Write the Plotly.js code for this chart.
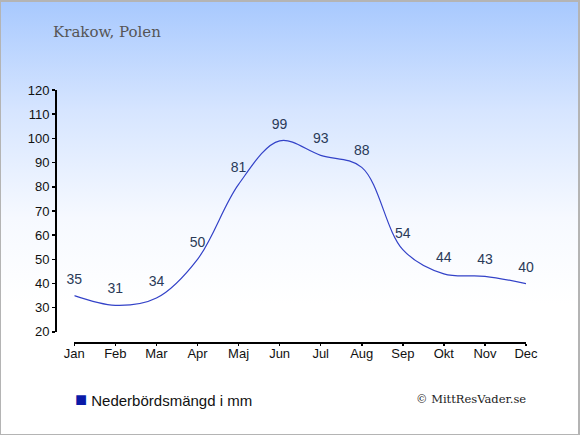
<!DOCTYPE html>
<html>
<head>
<meta charset="utf-8">
<script src="https://cdn.plot.ly/plotly-3.0.1.min.js"></script>
<style>
html,body{margin:0;padding:0;}
#wrap{width:580px;height:435px;box-sizing:border-box;border:1px solid #b4b4b4;border-top-width:2px;border-right-width:2px;
background:linear-gradient(to bottom,#a8c9fe 0%,#d6e5ff 25%,#f6f9ff 50%,#ffffff 70%,#ffffff 100%);}
#chart{width:576px;height:432px;}
</style>
</head>
<body>
<div id="wrap"><div id="chart"></div></div>
<script>
const months = ["Jan","Feb","Mar","Apr","Maj","Jun","Jul","Aug","Sep","Okt","Nov","Dec"];
const precip = [35,31,34,50,81,99,93,88,54,44,43,40];
const yTicks = [20,30,40,50,60,70,80,90,100,110,120];
const titleText = "Krakow, Polen";
const legendText = "Nederbördsmängd i mm";
const creditText = "© MittResVader.se";

const trace = {
  x: months,
  y: precip,
  type: "scatter",
  mode: "lines+markers+text",
  line: {shape: "spline", color: "#3342c8", width: 1.2, smoothing: 1},
  marker: {size: 12, color: "rgba(0,0,0,0)"},
  text: precip.map(String),
  textposition: "top center",
  textfont: {family: "Liberation Sans, Arial, sans-serif", size: 14, color: "#2a3a58"},
  hoverinfo: "none",
  cliponaxis: false,
  showlegend: false
};

const layout = {
  width: 576, height: 432,
  margin: {l: 54, r: 51, t: 88, b: 92},
  paper_bgcolor: "rgba(0,0,0,0)",
  plot_bgcolor: "rgba(0,0,0,0)",
  showlegend: false,
  font: {family: "Liberation Sans, Arial, sans-serif", size: 13, color: "#111"},
  xaxis: {
    type: "category",
    categoryorder: "array", categoryarray: months,
    range: [0, 11],
    domain: [0.041, 1],
    anchor: "free", position: 0,
    showline: true, linecolor: "#000", linewidth: 1.5,
    ticks: "outside", ticklen: 2, tickcolor: "#000", tickwidth: 1.5,
    ticklabelstandoff: -3,
    showgrid: false, zeroline: false,
    tickfont: {size: 13, color: "#111"}
  },
  yaxis: {
    range: [20, 120],
    domain: [0.04, 1],
    anchor: "free", position: 0,
    tickvals: yTicks,
    showline: true, linecolor: "#000", linewidth: 1.5,
    ticks: "outside", ticklen: 3, tickcolor: "#000", tickwidth: 1.5,
    showgrid: false, zeroline: false,
    tickfont: {size: 13, color: "#111"}
  },
  annotations: [
    {text: titleText, xref: "paper", yref: "paper", x: -0.008, y: 1.23, xanchor: "left", yanchor: "middle",
     showarrow: false, font: {family: "DejaVu Serif, Liberation Serif, serif", size: 15, color: "#555"}},
    {text: '<span style="color:#0a1aa8;font-size:20px">■</span> ' + legendText, xref: "paper", yref: "paper", x: 0.038, y: -0.225,
     xanchor: "left", yanchor: "middle", showarrow: false,
     font: {family: "Liberation Sans, Arial, sans-serif", size: 15, color: "#111"}},
    {text: creditText, xref: "paper", yref: "paper", x: 1.005, y: -0.225, xanchor: "right", yanchor: "middle",
     showarrow: false, font: {family: "DejaVu Serif, Liberation Serif, serif", size: 11.5, color: "#222"}}
  ]
};

Plotly.newPlot("chart", [trace], layout, {displayModeBar: false, staticPlot: true});
</script>
</body>
</html>
